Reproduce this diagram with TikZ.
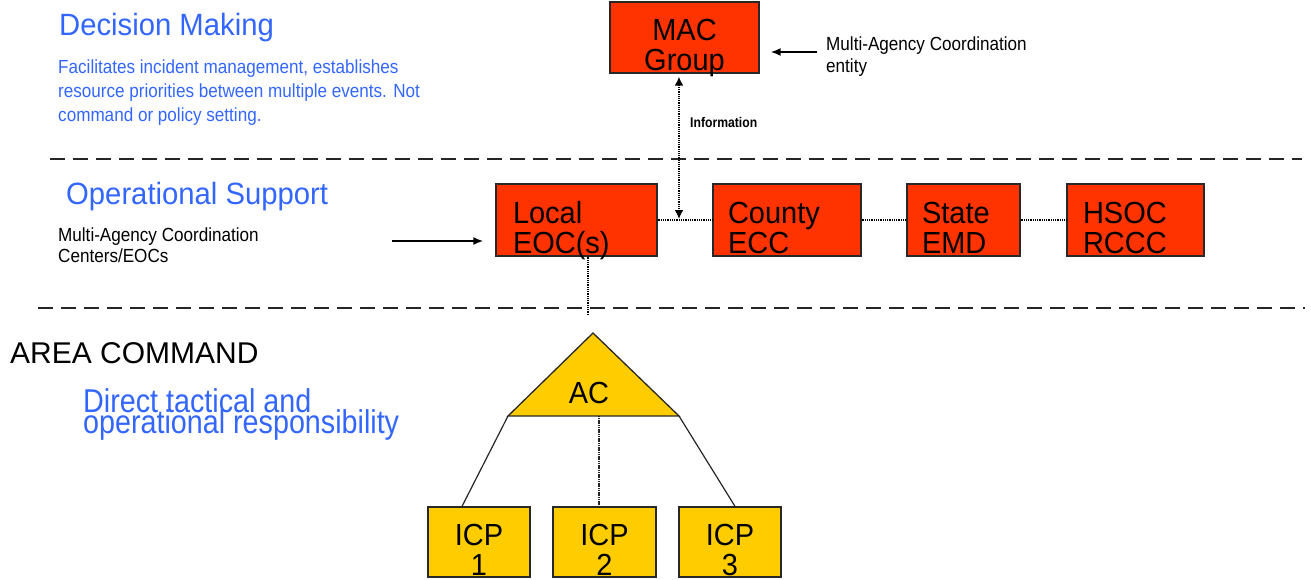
\documentclass[tikz,border=0pt]{standalone}
\usepackage{fontspec}
\setmainfont{Liberation Sans}
\newfontfamily\narA[FakeStretch=0.9]{Liberation Sans}
\newfontfamily\narB[FakeStretch=0.87]{Liberation Sans}
\newfontfamily\narC[FakeStretch=0.95]{Liberation Sans}
\usetikzlibrary{arrows.meta,calc}
\definecolor{eocred}{RGB}{255,51,0}
\definecolor{acyel}{RGB}{255,204,0}
\definecolor{hblue}{RGB}{51,102,255}
\definecolor{edge}{RGB}{40,40,40}
\newcommand\lstk[2]{\vtop{\baselineskip=#1\lineskiplimit=-100pt\lineskip=0pt\relax\halign{##\hfil\cr#2\crcr}}}
\newcommand\cstk[2]{\vtop{\baselineskip=#1\lineskiplimit=-100pt\lineskip=0pt\relax\halign{\hfil##\hfil\cr#2\crcr}}}
\newcommand\boxl[5]{\makebox[#1][l]{\hspace{#2}\raisebox{0pt}[#3][#4]{#5}}}
\newcommand\boxc[4]{\makebox[#1][c]{\raisebox{0pt}[#2][#3]{#4}}}
\tikzset{
  x=1pt, y=-1pt,
  eocbox/.style={draw=edge, line width=1.3pt, fill=eocred, inner sep=0pt, font=\narC\fontsize{30.5}{30}\selectfont},
  icpbox/.style={draw=edge, line width=1.3pt, fill=acyel, inner sep=0pt, font=\narC\fontsize{30.5}{30}\selectfont},
  head/.style={anchor=base west, inner sep=0pt, text=hblue, font=\narC\fontsize{30.8}{30}\selectfont},
  small/.style={anchor=base west, inner sep=0pt, font=\narA\fontsize{19}{22}\selectfont},
  sepline/.style={line width=2.2pt, draw=black!85, dash pattern=on 15pt off 8pt},
  dotline/.style={line width=1.3pt, dash pattern=on 1pt off 0.8pt},
  pointer/.style={line width=1.8pt, -{Latex[length=10pt,width=8pt]}},
  infoarrow/.style={line width=2.2pt, dash pattern=on 1.2pt off 1pt, {Latex[length=9pt,width=9pt]}-{Latex[length=9pt,width=9pt]}},
  tree/.style={line width=1.2pt, draw=black!85},
}
\begin{document}
\begin{tikzpicture}
\useasboundingbox (0,0) rectangle (1311,579);

% separators
\draw[sepline] (50,159) -- (1302,159);
\draw[sepline] (38,308) -- (1305,308);

% left texts
\node[head] (dm) at (59,35) {Decision Making};
\node[small, text=hblue] (dmdesc) at (58,73) {\lstk{24pt}{Facilitates incident management, establishes\cr resource priorities between multiple events. Not\cr command or policy setting.}};
\node[head] (os) at (66,204) {Operational Support};
\node[small] (macc) at (58,241) {\lstk{21pt}{Multi-Agency Coordination\cr Centers/EOCs}};
\node[anchor=base west, inner sep=0pt, font=\fontsize{30}{30}\selectfont] (area) at (10,363) {AREA COMMAND};
\node[head, font=\narB\fontsize{33}{21}\selectfont] (dt) at (83,412) {\lstk{21pt}{Direct tactical and\cr operational responsibility}};

% MAC group
\node[eocbox] (mac) at (684.5,37.5) {\boxc{149pt}{38pt}{33pt}{\cstk{30pt}{MAC\cr Group}}};
\node[small] (macent) at (826,50) {\lstk{22pt}{Multi-Agency Coordination\cr entity}};
\coordinate (p1) at (817,52);
\draw[pointer, shorten >=11pt] (p1) -- (p1 -| mac.east);

% operational boxes
\node[eocbox] (local) at (576.5,220) {\boxl{161pt}{17pt}{39pt}{33pt}{\lstk{30pt}{Local\cr EOC(s)}}};
\node[eocbox] (county) at (787,220) {\boxl{148pt}{15pt}{39pt}{33pt}{\lstk{30pt}{County\cr ECC}}};
\node[eocbox] (state) at (963.5,220) {\boxl{113pt}{15pt}{39pt}{33pt}{\lstk{30pt}{State\cr EMD}}};
\node[eocbox] (hsoc) at (1135.5,220) {\boxl{137pt}{16pt}{39pt}{33pt}{\lstk{30pt}{HSOC\cr RCCC}}};

\draw[dotline] (local.east) -- (county.west);
\draw[dotline] (county.east) -- (state.west);
\draw[dotline] (state.east) -- (hsoc.west);

\coordinate (p2) at (392,241);
\draw[pointer, shorten >=12pt] (p2) -- (p2 -| local.west);

% information arrow
\coordinate (j) at (679,219);
\draw[infoarrow, shorten <=3pt] (mac.south -| j) -- (j);
\node[anchor=base west, inner sep=0pt, font=\narB\bfseries\fontsize{14}{14}\selectfont] (info) at (690,127) {Information};

% link down from local EOC
\coordinate (eocend) at (588,315);
\draw[dotline, line width=1.5pt] (local.south -| eocend) -- (eocend);

% area command triangle
\coordinate (apex) at (593,333);
\coordinate (acl) at (508,416);
\coordinate (acr) at (679,416);
\coordinate (acm) at (599,416);
\filldraw[fill=acyel, draw=edge, line width=1.3pt, line join=miter] (apex) -- (acr) -- (acl) -- cycle;
\node[anchor=base, inner sep=0pt, font=\narC\fontsize{30.5}{30}\selectfont] (ac) at (589,403) {AC};

% ICP boxes
\node[icpbox] (icp1) at (479,542) {\boxc{102pt}{38pt}{32pt}{\cstk{30pt}{ICP\cr 1}}};
\node[icpbox] (icp2) at (604.5,542) {\boxc{103pt}{38pt}{32pt}{\cstk{30pt}{ICP\cr 2}}};
\node[icpbox] (icp3) at (730,542) {\boxc{102pt}{38pt}{32pt}{\cstk{30pt}{ICP\cr 3}}};

\draw[tree] (acl) -- ([xshift=-17pt]icp1.north);
\draw[tree, dash pattern=on 1.2pt off 0.6pt] (acm) -- ([xshift=-5.5pt]icp2.north);
\draw[tree] (acr) -- ([xshift=5pt]icp3.north);
\end{tikzpicture}
\end{document}
